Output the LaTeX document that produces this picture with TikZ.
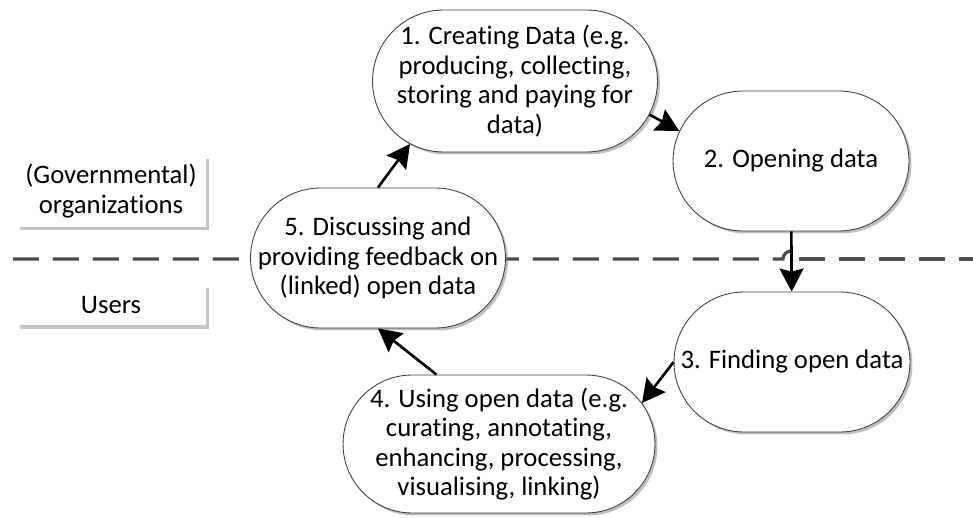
\documentclass[tikz,border=0pt]{standalone}
\usepackage{fontspec}
\setmainfont{Carlito}[Ligatures=NoCommon]
\usetikzlibrary{arrows.meta, positioning, shapes.misc, shadows}
\tikzset{
  every picture/.style={line width=0.8pt},
  every node/.style={font=\fontsize{15.2}{16.8}\selectfont},
  pstate/.style={draw=black!75, line width=0.5pt, fill=white, rounded rectangle, inner sep=0pt,
    drop shadow={shadow xshift=0.05cm, shadow yshift=-0.05cm, fill=black!50}},
  ptext/.style={align=center, inner sep=0pt},
  lane/.style={fill=white, inner sep=0pt, align=center,
    drop shadow={shadow xshift=0.07cm, shadow yshift=-0.07cm, fill=black!45}},
  divider/.style={draw=black!70, line width=1.8pt, dash pattern=on 0.52cm off 0.28cm},
  flow/.style={line width=1.5pt, -{Stealth[length=0.46cm, width=0.48cm, inset=0.06cm]}}
}
\begin{document}
\begin{tikzpicture}[x=0.02cm, y=-0.02cm, tips=proper]
    \useasboundingbox (0,0) rectangle (973,517);

    % organization / user lanes
    \coordinate (l) at (13,259);
    \coordinate (r) at (973,259);
    \coordinate (hop) at (783,259);
    \coordinate (hopr) at (799,259);
    \draw[divider] (l) -- (hop) arc[start angle=180, end angle=90, radius=0.16cm];
    \draw[divider] (hopr) -- (r);

    \node [lane, minimum width=3.8cm, minimum height=1.44cm] (gov) at (111,191)
      {(Governmental)\\ organizations};
    \node [lane, minimum width=3.8cm, minimum height=0.82cm] (users) at (111,305) {Users};

    % cycle
    \node [pstate, minimum width=5.7cm, minimum height=2.84cm,
      label={[ptext]center:{1. Creating Data (e.g.\\ producing, collecting,\\ storing and paying for\\ data)}}]
      (1) at (515,81) {};
    \node [pstate, minimum width=4.72cm, minimum height=2.8cm,
      label={[ptext]center:{2. Opening data}}] (2) at (791,161) {};
    \node [pstate, minimum width=4.72cm, minimum height=2.8cm,
      label={[ptext]center:{3. Finding open data}}] (3) at (792,362) {};
    \node [pstate, minimum width=6.24cm, minimum height=2.76cm,
      label={[ptext]center:{4. Using open data (e.g.\\ curating, annotating,\\ enhancing, processing,\\ visualising, linking)}}]
      (4) at (499,444) {};
    \node [pstate, minimum width=5.1cm, minimum height=2.8cm,
      label={[ptext]center:{5. Discussing and\\ providing feedback on\\ (linked) open data}}]
      (5) at (378,258) {};

    \draw(5.north) edge[flow] (1.211);
    \draw(1.346) edge[flow] (2.165);
    \draw(2) edge[flow] (3);
    \draw(3.west) edge[flow] (4.16);
    \draw(4.132) edge[flow] (5.south);
\end{tikzpicture}
\end{document}
